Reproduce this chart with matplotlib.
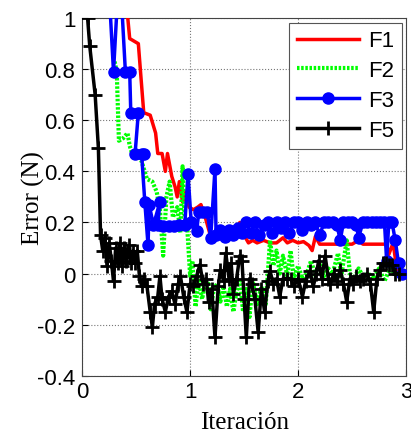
import numpy as np
import matplotlib
matplotlib.use("Agg")
import matplotlib.pyplot as plt

# Error por iteracion
f1_x = [0.40, 0.44, 0.52, 0.57, 0.63, 0.68, 0.70, 0.74, 0.77, 0.79, 0.83, 0.86, 0.88, 0.90, 0.93,
        0.96, 0.99, 1.03, 1.07, 1.10, 1.14, 1.18, 1.22, 1.26, 1.30, 1.34, 1.38, 1.42, 1.46, 1.50,
        1.54, 1.58, 1.62, 1.68, 1.74, 1.80, 1.86, 1.90, 1.95, 2.00, 2.05, 2.10, 2.13, 2.16, 2.20,
        2.30, 2.40, 2.50, 2.56, 2.60, 2.70, 2.82, 2.84, 2.88, 2.92]
f1_y = [1.10, 0.92, 0.90, 0.63, 0.62, 0.55, 0.47, 0.47, 0.40, 0.47, 0.38, 0.34, 0.30, 0.36, 0.28,
        0.32, 0.26, 0.25, 0.26, 0.27, 0.22, 0.16, 0.13, 0.18, 0.15, 0.17, 0.14, 0.17, 0.20, 0.15,
        0.12, 0.13, 0.12, 0.13, 0.12, 0.12, 0.14, 0.12, 0.13, 0.12, 0.125, 0.11, 0.09, 0.145, 0.115,
        0.115, 0.115, 0.115, 0.13, 0.115, 0.115, 0.115, 0.075, 0.12, 0.0]

f2_x = [0.30, 0.32, 0.34, 0.38, 0.42, 0.44, 0.47, 0.52, 0.55, 0.60, 0.65, 0.69, 0.72, 0.75, 0.78,
        0.81, 0.84, 0.88, 0.91, 0.93, 0.95, 0.97, 1.00, 1.02, 1.05, 1.08, 1.11, 1.14, 1.17, 1.19,
        1.22, 1.25, 1.28, 1.31, 1.34, 1.37, 1.40, 1.43, 1.46, 1.49, 1.52, 1.55, 1.58, 1.62, 1.66,
        1.70, 1.74, 1.77, 1.80, 1.83, 1.86, 1.90, 1.93, 1.96, 2.00, 2.04, 2.08, 2.12, 2.16, 2.20,
        2.24, 2.28, 2.32, 2.37, 2.40, 2.45, 2.48, 2.52, 2.56, 2.60, 2.65, 2.70, 2.75, 2.80, 2.85,
        2.90]
f2_y = [0.83, 0.79, 0.52, 0.53, 0.55, 0.50, 0.46, 0.46, 0.44, 0.37, 0.36, 0.32, 0.25, 0.07, 0.30,
        0.36, 0.22, 0.26, 0.16, 0.42, 0.22, 0.20, -0.01, 0.05, -0.13, -0.02, -0.10, -0.04, -0.04, -0.14,
        -0.06, -0.04, -0.11, -0.05, -0.13, -0.06, -0.15, -0.07, -0.02, -0.15, -0.06, -0.17, -0.03, -0.12, -0.05,
        -0.12, 0.13, 0.03, 0.09, 0.0, 0.07, -0.01, 0.09, -0.02, 0.03, -0.02, 0.0, 0.05, -0.01, 0.04,
        -0.01, 0.02, 0.0, 0.08, -0.01, 0.13, 0.0, -0.02, 0.02, -0.01, 0.0, -0.02, 0.02, -0.03, 0.02,
        0.0]

f3_x = [0.25, 0.29, 0.33, 0.36, 0.40, 0.44, 0.45, 0.52, 0.49, 0.57, 0.55, 0.58, 0.61, 0.62, 0.66,
        0.72, 0.70, 0.75, 0.80, 0.85, 0.90, 0.95, 0.98, 1.01, 1.06, 1.08, 1.12, 1.16, 1.19, 1.23,
        1.24, 1.28, 1.32, 1.36, 1.40, 1.44, 1.48, 1.52, 1.56, 1.60, 1.64, 1.68, 1.72, 1.76, 1.80,
        1.84, 1.88, 1.92, 1.96, 2.00, 2.04, 2.08, 2.12, 2.16, 2.20, 2.24, 2.28, 2.32, 2.36, 2.39,
        2.42, 2.46, 2.50, 2.54, 2.56, 2.60, 2.64, 2.68, 2.72, 2.76, 2.80, 2.82, 2.84, 2.87, 2.90,
        2.93, 2.96]
f3_y = [1.10, 0.79, 1.10, 1.10, 0.79, 0.79, 0.63, 0.63, 0.47, 0.47, 0.47, 0.28, 0.11, 0.27, 0.19,
        0.28, 0.19, 0.185, 0.185, 0.185, 0.19, 0.19, 0.39, 0.20, 0.165, 0.24, 0.24, 0.24, 0.14, 0.41,
        0.15, 0.17, 0.145, 0.17, 0.15, 0.18, 0.16, 0.20, 0.16, 0.20, 0.15, 0.19, 0.20, 0.16, 0.20,
        0.18, 0.20, 0.16, 0.20, 0.20, 0.17, 0.20, 0.19, 0.20, 0.15, 0.20, 0.20, 0.20, 0.19, 0.13,
        0.20, 0.20, 0.20, 0.19, 0.14, 0.20, 0.20, 0.20, 0.20, 0.20, 0.20, 0.05, 0.20, 0.20, 0.13,
        0.04, 0.0]

f5_x = [0.0, 0.05, 0.07, 0.12, 0.15, 0.17, 0.19, 0.21, 0.23, 0.25, 0.27, 0.29, 0.31, 0.33, 0.35,
        0.37, 0.39, 0.41, 0.43, 0.45, 0.47, 0.49, 0.51, 0.53, 0.55, 0.57, 0.60, 0.63, 0.65, 0.67,
        0.70, 0.72, 0.74, 0.77, 0.80, 0.83, 0.86, 0.89, 0.91, 0.94, 0.97, 1.00, 1.03, 1.06, 1.09,
        1.12, 1.15, 1.17, 1.20, 1.23, 1.26, 1.28, 1.31, 1.33, 1.36, 1.38, 1.40, 1.43, 1.46, 1.48,
        1.50, 1.52, 1.55, 1.57, 1.60, 1.63, 1.66, 1.69, 1.72, 1.74, 1.77, 1.80, 1.83, 1.86, 1.90,
        1.93, 1.96, 2.00, 2.04, 2.07, 2.11, 2.14, 2.17, 2.19, 2.22, 2.25, 2.28, 2.30, 2.33, 2.36,
        2.39, 2.42, 2.45, 2.48, 2.51, 2.54, 2.57, 2.60, 2.64, 2.67, 2.70, 2.73, 2.76, 2.79, 2.81,
        2.84, 2.87, 2.90, 2.93]
f5_y = [1.30, 1.00, 0.89, 0.70, 0.49, 0.15, 0.09, 0.14, 0.03, 0.12, 0.05, -0.03, 0.10, 0.04, 0.12,
        0.03, 0.10, 0.05, 0.11, 0.04, 0.09, 0.04, 0.09, -0.01, -0.05, -0.02, -0.05, -0.15, -0.21, -0.12,
        -0.09, -0.01, -0.10, -0.15, -0.09, -0.07, -0.12, -0.04, -0.01, -0.09, -0.15, -0.04, -0.05, -0.01, 0.035,
        -0.04, -0.02, -0.11, -0.06, -0.25, -0.05, 0.015, -0.03, 0.08, -0.02, 0.04, -0.08, -0.02, 0.07, 0.05,
        -0.10, -0.25, -0.02, -0.04, -0.10, -0.23, -0.06, -0.15, -0.03, 0.01, -0.04, -0.02, -0.09, -0.02, -0.02,
        -0.02, -0.05, -0.02, -0.09, -0.03, 0.01, -0.05, 0.0, 0.05, -0.02, 0.07, -0.02, -0.04, 0.0, -0.03,
        0.015, -0.04, -0.11, -0.02, -0.04, -0.01, -0.03, -0.02, 0.0, -0.04, -0.15, -0.02, 0.015, 0.04, 0.04,
        0.035, 0.035, 0.0, 0.0]

x_ticks = [0, 1, 2, 3]
y_ticks = [-0.4, -0.2, 0, 0.2, 0.4, 0.6, 0.8, 1]
y_tick_labels = ["-0.4", "-0.2", "0", "0.2", "0.4", "0.6", "0.8", "1"]

plt.rcParams['axes.unicode_minus'] = False

fig = plt.figure(figsize=(4.11, 4.35), dpi=100)
ax = fig.add_axes([0.2, 0.134, 0.788, 0.822])

ax.plot(f1_x, f1_y, color='red', linewidth=2.5, label="F1", zorder=3)
ax.plot(f2_x, f2_y, color='#00ff00', linewidth=3, linestyle=(0, (0.6, 0.4)), label="F2", zorder=3)
ax.plot(f3_x, f3_y, color='blue', linewidth=2.5, marker='o', markersize=8, label="F3", zorder=4)
ax.plot(f5_x, f5_y, color='black', linewidth=2.5, marker='+', markersize=10, markeredgewidth=2,
        label="F5", zorder=5)

ax.set_xlim(0, 3)
ax.set_ylim(-0.4, 1)
ax.set_xticks(x_ticks)
ax.set_xticklabels([str(t) for t in x_ticks], family='Liberation Sans', fontsize=16)
ax.set_yticks(y_ticks)
ax.set_yticklabels(y_tick_labels, family='Liberation Sans', fontsize=16)
ax.tick_params(direction='in', length=4, width=0.8)
ax.tick_params(axis='x', pad=4)
ax.tick_params(axis='y', pad=5)
ax.grid(True, linestyle=':', color='#777777', linewidth=0.8)
for s in ax.spines.values():
    s.set_color('#444444')
    s.set_linewidth(0.8)

ax.set_xlabel("Iteración", family='Liberation Serif', fontsize=18, labelpad=6)
ax.set_ylabel("Error (N)", family='Liberation Serif', fontsize=18)
ax.yaxis.set_label_coords(-0.115, 0.5)

leg = ax.legend(loc='upper right', prop={'family': 'Liberation Sans', 'size': 16},
                handlelength=2.8, fancybox=False, edgecolor='#555555', framealpha=1,
                borderpad=0.35, labelspacing=0.4, handletextpad=0.4, borderaxespad=0.2)
leg.get_frame().set_linewidth(0.8)

fig.savefig("out.png", dpi=100)
